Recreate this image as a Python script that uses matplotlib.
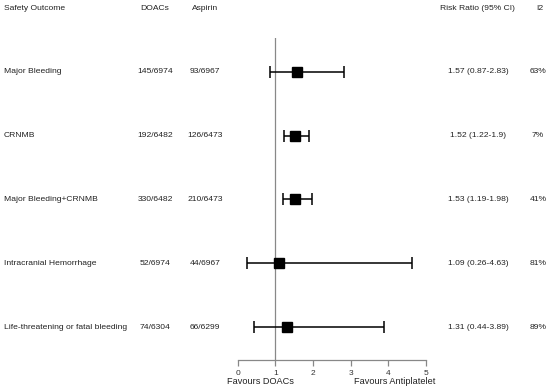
import numpy as np
import matplotlib
matplotlib.use("Agg")
import matplotlib.pyplot as plt
import matplotlib.transforms as mtransforms

plt.rcParams['font.family'] = ['Liberation Sans', 'DejaVu Sans']

# データ
outcomes = ["Major Bleeding", "CRNMB", "Major Bleeding+CRNMB",
            "Intracranial Hemorrhage", "Life-threatening or fatal bleeding"]
doacs = ["145/6974", "192/6482", "330/6482", "52/6974", "74/6304"]
aspirin = ["93/6967", "126/6473", "210/6473", "44/6967", "66/6299"]
rr = [1.57, 1.52, 1.53, 1.09, 1.31]
lo = [0.87, 1.22, 1.19, 0.26, 0.44]
hi = [2.83, 1.9, 1.98, 4.63, 3.89]
rr_text = ["1.57 (0.87-2.83)", "1.52 (1.22-1.9)", "1.53 (1.19-1.98)",
           "1.09 (0.26-4.63)", "1.31 (0.44-3.89)"]
i2 = ["63%", "7%", "41%", "81%", "89%"]
xticks = [0, 1, 2, 3, 4, 5]

W, H = 550, 390
fig = plt.figure(figsize=(W / 100, H / 100), dpi=100)

# 軸の位置 (ピクセルで指定)
x0, x5 = 237.7, 426.0
ytop, ybot = 38, 360
ax = fig.add_axes([x0 / W, 1 - ybot / H, (x5 - x0) / W, (ybot - ytop) / H])

n = len(outcomes)
ypos = np.arange(n, 0, -1)
rr = np.array(rr)
lo = np.array(lo)
hi = np.array(hi)

ax.axvline(1, color='#888888', lw=0.9, zorder=1)
ax.errorbar(rr, ypos, xerr=[rr - lo, hi - rr], fmt='none', ecolor='black',
            elinewidth=1.1, capsize=4, capthick=1.1, zorder=2)
ax.plot(rr, ypos, 's', color='black', markersize=6.5, zorder=3)

ax.set_xlim(0, 5)
ax.set_ylim(1 - 33 / 64, n + 34 / 64)
ax.set_xticks(xticks)
ax.set_xticklabels([str(t) for t in xticks], fontsize=6)
ax.set_yticks([])
for s in ['top', 'right', 'left']:
    ax.spines[s].set_visible(False)
ax.spines['bottom'].set_color('#888888')
ax.spines['bottom'].set_linewidth(0.9)
ax.tick_params(axis='x', colors='#888888', length=4, width=0.9, pad=3,
               labelcolor='#333333')

trans = mtransforms.blended_transform_factory(fig.transFigure, ax.transData)
fs = 6.1
for i in range(n):
    y = ypos[i]
    fig.text(4 / W, y, outcomes[i], transform=trans, fontsize=fs, va='center', ha='left', color='#222222')
    fig.text(155 / W, y, doacs[i], transform=trans, fontsize=fs, va='center', ha='center', color='#222222')
    fig.text(205 / W, y, aspirin[i], transform=trans, fontsize=fs, va='center', ha='center', color='#222222')
    fig.text(478 / W, y, rr_text[i], transform=trans, fontsize=fs, va='center', ha='center', color='#222222')
    fig.text(538 / W, y, i2[i], transform=trans, fontsize=fs, va='center', ha='center', color='#222222')

hy = 1 - 8 / H
fig.text(4 / W, hy, "Safety Outcome", fontsize=fs, va='center', ha='left', color='#222222')
fig.text(155 / W, hy, "DOACs", fontsize=fs, va='center', ha='center', color='#222222')
fig.text(205 / W, hy, "Aspirin", fontsize=fs, va='center', ha='center', color='#222222')
fig.text(478 / W, hy, "Risk Ratio (95% CI)", fontsize=fs, va='center', ha='center', color='#222222')
fig.text(540 / W, hy, "I2", fontsize=fs, va='center', ha='center', color='#222222')

fy = 1 - 381 / H
fig.text(260 / W, fy, "Favours DOACs", fontsize=6.6, va='center', ha='center', color='#222222')
fig.text(395 / W, fy, "Favours Antiplatelet", fontsize=6.6, va='center', ha='center', color='#222222')

fig.savefig("out.png", dpi=100)
